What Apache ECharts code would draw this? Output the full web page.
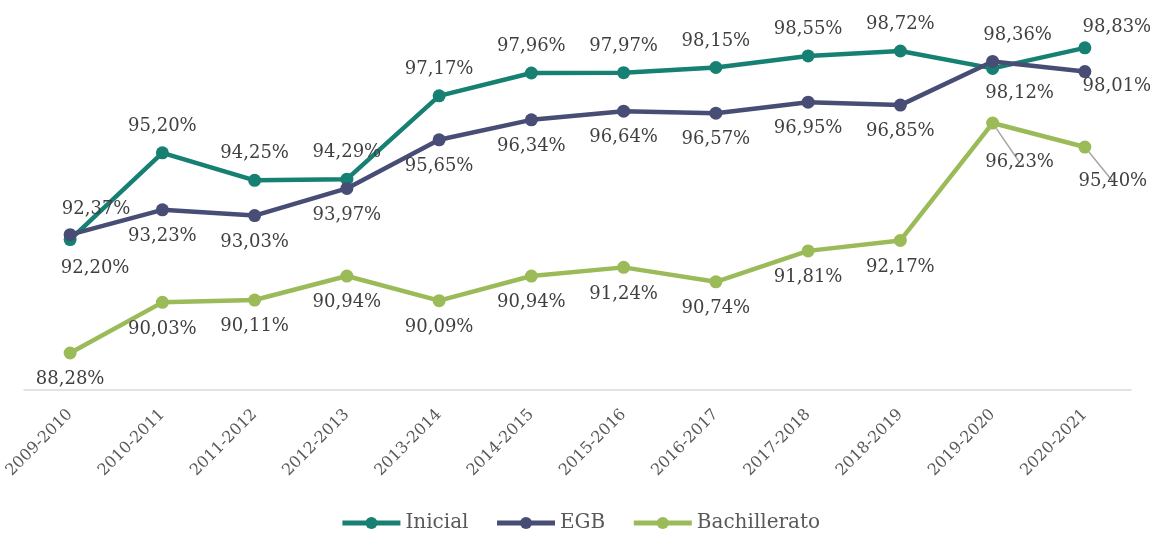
<!DOCTYPE html>
<html>
<head>
<meta charset="utf-8">
<script src="https://cdn.jsdelivr.net/npm/echarts@6/dist/echarts.min.js"></script>
<style>
  html, body { margin: 0; padding: 0; background: #fff; }
  #main { width: 1160px; height: 536px; }
</style>
</head>
<body>
<div id="main"></div>
<script>
const categories = ['2009-2010', '2010-2011', '2011-2012', '2012-2013', '2013-2014', '2014-2015',
  '2015-2016', '2016-2017', '2017-2018', '2018-2019', '2019-2020', '2020-2021'];
const inicial = [92.20, 95.20, 94.25, 94.29, 97.17, 97.96, 97.97, 98.15, 98.55, 98.72, 98.12, 98.83];
const egb = [92.37, 93.23, 93.03, 93.97, 95.65, 96.34, 96.64, 96.57, 96.95, 96.85, 98.36, 98.01];
const bachillerato = [88.28, 90.03, 90.11, 90.94, 90.09, 90.94, 91.24, 90.74, 91.81, 92.17, 96.23, 95.40];

const font = 'DejaVu Serif';
const fmt = p => p.value.toFixed(2).replace('.', ',') + '%';
const guide = {show: true, lineStyle: {color: '#a6a6a6', width: 1.5}};

// label tweaks per point: {index: {label, labelLine}}
function withLabels(values, overrides) {
  return values.map((v, i) => overrides[i] ? Object.assign({value: v}, overrides[i]) : v);
}

function makeSeries(name, color, values, pos, overrides) {
  return {
    name: name,
    type: 'line',
    data: withLabels(values, overrides),
    symbol: 'circle',
    symbolSize: 13,
    lineStyle: {width: 4.5, color: color},
    itemStyle: {color: color},
    label: {
      show: true,
      position: pos,
      distance: 11,
      formatter: fmt,
      fontFamily: font,
      fontSize: 18,
      color: '#404040'
    },
    labelLine: {show: false},
    z: 2
  };
}

let myChart = echarts.init(document.getElementById('main'));
let option = {
  animation: false,
  color: ['#168073', '#474d74', '#9bbb59'],
  grid: {left: 24, right: 29, top: 14, bottom: 146},
  legend: {
    bottom: -2,
    left: 'center',
    itemWidth: 58,
    itemHeight: 15,
    itemGap: 26,
    lineStyle: {width: 5},
    textStyle: {fontFamily: font, fontSize: 20, color: '#595959'},
    data: ['Inicial', 'EGB', 'Bachillerato']
  },
  xAxis: {
    type: 'category',
    data: categories,
    axisTick: {show: false},
    axisLine: {lineStyle: {color: '#d9d9d9', width: 1.5}},
    axisLabel: {rotate: 45, fontFamily: font, fontSize: 16, color: '#595959', margin: 22}
  },
  yAxis: {
    type: 'value',
    min: 87,
    max: 100,
    show: false
  },
  series: [
    makeSeries('Inicial', '#168073', inicial, 'top', {
      0: {label: {position: 'bottom', offset: [25, 2]}},
      10: {label: {position: 'bottom', offset: [27, -2]}},
      11: {label: {position: 'top', offset: [32, 6]}}
    }),
    makeSeries('EGB', '#474d74', egb, 'bottom', {
      0: {label: {position: 'top', offset: [26, 1]}},
      10: {label: {position: 'top', offset: [25, 0]}},
      11: {label: {position: 'bottom', offset: [32, -12]}}
    }),
    makeSeries('Bachillerato', '#9bbb59', bachillerato, 'bottom', {
      10: {label: {offset: [27, 13]}, labelLine: guide},
      11: {label: {offset: [28, 8]}, labelLine: guide}
    })
  ]
};
myChart.setOption(option);
</script>
</body>
</html>
